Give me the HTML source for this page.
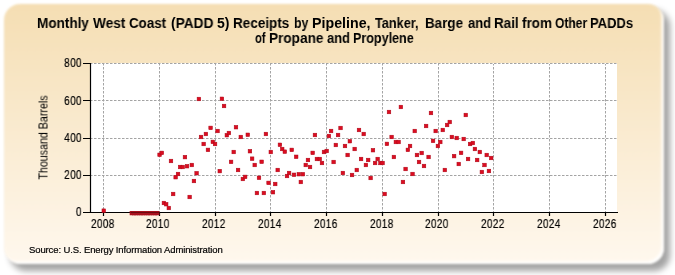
<!DOCTYPE html>
<html><head><meta charset="utf-8">
<style>
html,body{margin:0;padding:0;background:#fff;width:675px;height:275px;overflow:hidden;position:relative;}
.shadow{position:absolute;left:9.5px;top:9.5px;width:660px;height:261px;border-radius:16px;background:rgba(0,0,0,0.36);filter:blur(3px);}
.panel{position:absolute;left:3.5px;top:3.5px;width:660.5px;height:260px;border-radius:16px;filter:blur(1.1px);
background:linear-gradient(to bottom,#F5DEB3 0%,#FFF8EE 100%);box-shadow:inset -2.5px -2.5px 2px rgba(255,255,255,0.95);}
.t{position:absolute;will-change:transform;font-family:"Liberation Sans",sans-serif;color:#000;white-space:nowrap;line-height:15px;}
.yl{left:40.5px;width:41px;text-align:right;font-size:12.5px;letter-spacing:0.45px;transform:scaleX(0.8);transform-origin:100% 50%;-webkit-text-stroke:0.2px #000;}
.xl{top:216.5px;font-size:12.5px;letter-spacing:0.45px;transform:scaleX(0.8);transform-origin:0 50%;-webkit-text-stroke:0.2px #000;}
svg{position:absolute;left:0;top:0;}
.tw{font-size:14px;font-weight:bold;transform-origin:0 50%;}
</style></head><body>
<div class="shadow"></div>
<div class="panel"></div>
<div class="t tw" style="left:36.90px;top:15.5px;transform:scaleX(0.967)">Monthly</div><div class="t tw" style="left:92.50px;top:15.5px;transform:scaleX(0.975)">West</div><div class="t tw" style="left:129.30px;top:15.5px;transform:scaleX(0.953)">Coast</div><div class="t tw" style="left:170.70px;top:15.5px;transform:scaleX(0.980)">(PADD</div><div class="t tw" style="left:217.00px;top:15.5px;transform:scaleX(1.001)">5)</div><div class="t tw" style="left:232.90px;top:15.5px;transform:scaleX(0.965)">Receipts</div><div class="t tw" style="left:293.50px;top:15.5px;transform:scaleX(0.882)">by</div><div class="t tw" style="left:312.40px;top:15.5px;transform:scaleX(1.016)">Pipeline,</div><div class="t tw" style="left:375.00px;top:15.5px;transform:scaleX(0.907)">Tanker,</div><div class="t tw" style="left:425.40px;top:15.5px;transform:scaleX(0.957)">Barge</div><div class="t tw" style="left:467.80px;top:15.5px;transform:scaleX(0.929)">and</div><div class="t tw" style="left:493.60px;top:15.5px;transform:scaleX(0.960)">Rail</div><div class="t tw" style="left:521.70px;top:15.5px;transform:scaleX(0.962)">from</div><div class="t tw" style="left:555.20px;top:15.5px;transform:scaleX(0.860)">Other</div><div class="t tw" style="left:589.80px;top:15.5px;transform:scaleX(0.926)">PADDs</div><div class="t tw" style="left:255.30px;top:30.5px;transform:scaleX(0.797)">of</div><div class="t tw" style="left:269.40px;top:30.5px;transform:scaleX(0.971)">Propane</div><div class="t tw" style="left:327.40px;top:30.5px;transform:scaleX(0.924)">and</div><div class="t tw" style="left:353.20px;top:30.5px;transform:scaleX(0.897)">Propylene</div>
<svg width="675" height="275" viewBox="0 0 675 275">
<rect x="91" y="63" width="526" height="149" fill="#fff"/>
<g stroke="#a4a4a4" stroke-width="1" stroke-dasharray="2.5,1.5" stroke-dashoffset="1" fill="none">
<path d="M91 63.5H617M91 100.5H617M91 138.5H617M91 175.5H617"/>
<path d="M103.5 64V212M159.5 64V212M215.5 64V212M270.5 64V212M326.5 64V212M382.5 64V212M438.5 64V212M493.5 64V212M549.5 64V212M605.5 64V212"/>
</g>
<g stroke="#000" stroke-width="1.2" fill="none">
<path d="M90.5 63V213"/>
<path d="M90 212.5H618"/>
<path d="M83 63.5H90.5M83 100.5H90.5M83 138.5H90.5M83 175.5H90.5M83 212.5H90.5"/>
<path d="M103.5 212V216M159.5 212V216M215.5 212V216M270.5 212V216M326.5 212V216M382.5 212V216M438.5 212V216M493.5 212V216M549.5 212V216M605.5 212V216"/>
</g>
<g id="pts" fill="#dc0c20" stroke="#aa0818" stroke-width="0.5"><rect x="101.98" y="208.90" width="3.6" height="3.6"/><rect x="129.96" y="211.40" width="3.6" height="3.6"/><rect x="132.35" y="211.40" width="3.6" height="3.6"/><rect x="134.67" y="211.40" width="3.6" height="3.6"/><rect x="136.99" y="211.40" width="3.6" height="3.6"/><rect x="139.31" y="211.40" width="3.6" height="3.6"/><rect x="141.63" y="211.40" width="3.6" height="3.6"/><rect x="143.95" y="211.40" width="3.6" height="3.6"/><rect x="146.27" y="211.40" width="3.6" height="3.6"/><rect x="148.59" y="211.40" width="3.6" height="3.6"/><rect x="150.92" y="211.40" width="3.6" height="3.6"/><rect x="153.24" y="211.40" width="3.6" height="3.6"/><rect x="155.23" y="211.40" width="3.6" height="3.6"/><rect x="157.79" y="153.00" width="3.6" height="3.6"/><rect x="160.05" y="151.10" width="3.6" height="3.6"/><rect x="162.11" y="201.20" width="3.6" height="3.6"/><rect x="164.37" y="202.40" width="3.6" height="3.6"/><rect x="167.03" y="206.20" width="3.6" height="3.6"/><rect x="169.19" y="159.20" width="3.6" height="3.6"/><rect x="171.35" y="192.20" width="3.6" height="3.6"/><rect x="173.86" y="175.40" width="3.6" height="3.6"/><rect x="176.22" y="172.20" width="3.6" height="3.6"/><rect x="178.34" y="165.20" width="3.6" height="3.6"/><rect x="180.95" y="165.20" width="3.6" height="3.6"/><rect x="183.16" y="155.30" width="3.6" height="3.6"/><rect x="185.22" y="164.40" width="3.6" height="3.6"/><rect x="187.88" y="195.20" width="3.6" height="3.6"/><rect x="190.04" y="163.20" width="3.6" height="3.6"/><rect x="192.15" y="179.20" width="3.6" height="3.6"/><rect x="194.81" y="171.40" width="3.6" height="3.6"/><rect x="197.12" y="97.20" width="3.6" height="3.6"/><rect x="199.23" y="135.20" width="3.6" height="3.6"/><rect x="201.89" y="142.20" width="3.6" height="3.6"/><rect x="204.10" y="132.20" width="3.6" height="3.6"/><rect x="206.16" y="148.10" width="3.6" height="3.6"/><rect x="208.82" y="126.10" width="3.6" height="3.6"/><rect x="211.03" y="140.10" width="3.6" height="3.6"/><rect x="213.25" y="142.20" width="3.6" height="3.6"/><rect x="215.76" y="129.20" width="3.6" height="3.6"/><rect x="217.97" y="169.30" width="3.6" height="3.6"/><rect x="220.13" y="97.00" width="3.6" height="3.6"/><rect x="222.24" y="104.20" width="3.6" height="3.6"/><rect x="225.05" y="133.40" width="3.6" height="3.6"/><rect x="227.11" y="131.20" width="3.6" height="3.6"/><rect x="229.27" y="160.10" width="3.6" height="3.6"/><rect x="231.93" y="150.20" width="3.6" height="3.6"/><rect x="234.19" y="125.40" width="3.6" height="3.6"/><rect x="236.25" y="168.20" width="3.6" height="3.6"/><rect x="239.01" y="135.20" width="3.6" height="3.6"/><rect x="241.07" y="177.20" width="3.6" height="3.6"/><rect x="243.33" y="175.10" width="3.6" height="3.6"/><rect x="245.99" y="133.00" width="3.6" height="3.6"/><rect x="248.15" y="149.40" width="3.6" height="3.6"/><rect x="250.31" y="156.90" width="3.6" height="3.6"/><rect x="252.93" y="163.20" width="3.6" height="3.6"/><rect x="255.14" y="191.20" width="3.6" height="3.6"/><rect x="257.20" y="176.00" width="3.6" height="3.6"/><rect x="259.86" y="160.00" width="3.6" height="3.6"/><rect x="262.07" y="191.20" width="3.6" height="3.6"/><rect x="264.13" y="132.20" width="3.6" height="3.6"/><rect x="266.79" y="181.10" width="3.6" height="3.6"/><rect x="269.00" y="150.20" width="3.6" height="3.6"/><rect x="271.16" y="190.40" width="3.6" height="3.6"/><rect x="273.42" y="182.20" width="3.6" height="3.6"/><rect x="275.93" y="168.20" width="3.6" height="3.6"/><rect x="278.14" y="143.00" width="3.6" height="3.6"/><rect x="280.40" y="147.20" width="3.6" height="3.6"/><rect x="283.01" y="149.90" width="3.6" height="3.6"/><rect x="285.22" y="174.20" width="3.6" height="3.6"/><rect x="287.29" y="171.20" width="3.6" height="3.6"/><rect x="289.95" y="148.10" width="3.6" height="3.6"/><rect x="292.16" y="173.00" width="3.6" height="3.6"/><rect x="294.37" y="155.00" width="3.6" height="3.6"/><rect x="297.03" y="172.40" width="3.6" height="3.6"/><rect x="299.04" y="180.20" width="3.6" height="3.6"/><rect x="301.10" y="172.40" width="3.6" height="3.6"/><rect x="303.96" y="163.20" width="3.6" height="3.6"/><rect x="306.17" y="158.20" width="3.6" height="3.6"/><rect x="308.23" y="165.20" width="3.6" height="3.6"/><rect x="310.89" y="151.10" width="3.6" height="3.6"/><rect x="313.15" y="133.20" width="3.6" height="3.6"/><rect x="315.11" y="157.20" width="3.6" height="3.6"/><rect x="317.97" y="157.20" width="3.6" height="3.6"/><rect x="320.18" y="161.20" width="3.6" height="3.6"/><rect x="322.19" y="150.20" width="3.6" height="3.6"/><rect x="324.90" y="149.20" width="3.6" height="3.6"/><rect x="327.12" y="134.20" width="3.6" height="3.6"/><rect x="329.28" y="129.20" width="3.6" height="3.6"/><rect x="331.84" y="160.20" width="3.6" height="3.6"/><rect x="334.05" y="143.20" width="3.6" height="3.6"/><rect x="336.26" y="133.20" width="3.6" height="3.6"/><rect x="338.77" y="126.20" width="3.6" height="3.6"/><rect x="341.08" y="171.20" width="3.6" height="3.6"/><rect x="343.19" y="144.20" width="3.6" height="3.6"/><rect x="345.85" y="153.20" width="3.6" height="3.6"/><rect x="348.06" y="139.40" width="3.6" height="3.6"/><rect x="350.22" y="173.20" width="3.6" height="3.6"/><rect x="352.88" y="147.20" width="3.6" height="3.6"/><rect x="354.99" y="168.20" width="3.6" height="3.6"/><rect x="357.20" y="128.20" width="3.6" height="3.6"/><rect x="359.26" y="157.20" width="3.6" height="3.6"/><rect x="361.93" y="132.20" width="3.6" height="3.6"/><rect x="364.14" y="163.20" width="3.6" height="3.6"/><rect x="366.35" y="158.20" width="3.6" height="3.6"/><rect x="368.86" y="176.20" width="3.6" height="3.6"/><rect x="371.17" y="148.40" width="3.6" height="3.6"/><rect x="373.28" y="161.20" width="3.6" height="3.6"/><rect x="375.89" y="157.20" width="3.6" height="3.6"/><rect x="378.65" y="161.20" width="3.6" height="3.6"/><rect x="380.81" y="161.20" width="3.6" height="3.6"/><rect x="382.87" y="192.20" width="3.6" height="3.6"/><rect x="385.13" y="142.10" width="3.6" height="3.6"/><rect x="387.19" y="110.20" width="3.6" height="3.6"/><rect x="389.85" y="135.20" width="3.6" height="3.6"/><rect x="392.11" y="155.20" width="3.6" height="3.6"/><rect x="394.07" y="140.20" width="3.6" height="3.6"/><rect x="396.83" y="140.20" width="3.6" height="3.6"/><rect x="399.09" y="105.20" width="3.6" height="3.6"/><rect x="401.16" y="180.20" width="3.6" height="3.6"/><rect x="403.82" y="167.20" width="3.6" height="3.6"/><rect x="406.08" y="148.10" width="3.6" height="3.6"/><rect x="408.24" y="144.20" width="3.6" height="3.6"/><rect x="410.75" y="172.20" width="3.6" height="3.6"/><rect x="412.96" y="129.20" width="3.6" height="3.6"/><rect x="415.17" y="153.20" width="3.6" height="3.6"/><rect x="417.23" y="160.20" width="3.6" height="3.6"/><rect x="419.89" y="151.20" width="3.6" height="3.6"/><rect x="422.20" y="164.20" width="3.6" height="3.6"/><rect x="424.31" y="124.20" width="3.6" height="3.6"/><rect x="426.82" y="155.20" width="3.6" height="3.6"/><rect x="429.18" y="111.20" width="3.6" height="3.6"/><rect x="431.24" y="139.10" width="3.6" height="3.6"/><rect x="433.90" y="129.20" width="3.6" height="3.6"/><rect x="436.11" y="144.20" width="3.6" height="3.6"/><rect x="438.48" y="140.20" width="3.6" height="3.6"/><rect x="440.99" y="128.20" width="3.6" height="3.6"/><rect x="443.05" y="168.20" width="3.6" height="3.6"/><rect x="445.31" y="123.20" width="3.6" height="3.6"/><rect x="447.97" y="120.20" width="3.6" height="3.6"/><rect x="450.08" y="135.20" width="3.6" height="3.6"/><rect x="452.29" y="154.30" width="3.6" height="3.6"/><rect x="454.95" y="136.20" width="3.6" height="3.6"/><rect x="456.96" y="162.20" width="3.6" height="3.6"/><rect x="459.27" y="151.10" width="3.6" height="3.6"/><rect x="461.93" y="137.20" width="3.6" height="3.6"/><rect x="463.99" y="113.20" width="3.6" height="3.6"/><rect x="466.25" y="157.20" width="3.6" height="3.6"/><rect x="468.26" y="142.20" width="3.6" height="3.6"/><rect x="471.07" y="141.20" width="3.6" height="3.6"/><rect x="473.14" y="147.20" width="3.6" height="3.6"/><rect x="475.35" y="158.20" width="3.6" height="3.6"/><rect x="478.01" y="150.20" width="3.6" height="3.6"/><rect x="480.07" y="170.20" width="3.6" height="3.6"/><rect x="482.73" y="163.20" width="3.6" height="3.6"/><rect x="484.94" y="153.20" width="3.6" height="3.6"/><rect x="487.15" y="169.20" width="3.6" height="3.6"/><rect x="489.36" y="156.20" width="3.6" height="3.6"/></g>
<rect x="130.2" y="211" width="29.2" height="4" fill="#a8121e"/><path d="M130.5 212.5H159.3" stroke="rgba(40,0,0,0.45)" stroke-width="1"/>
</svg>
<div class="t yl" style="top:56.0px">800</div>
<div class="t yl" style="top:93.8px">600</div>
<div class="t yl" style="top:131.0px">400</div>
<div class="t yl" style="top:168.0px">200</div>
<div class="t yl" style="top:205.0px">0</div>
<div class="t xl" style="left:90.5px">2008</div>
<div class="t xl" style="left:146.4px">2010</div>
<div class="t xl" style="left:201.6px">2012</div>
<div class="t xl" style="left:257.6px">2014</div>
<div class="t xl" style="left:313.6px">2016</div>
<div class="t xl" style="left:369.6px">2018</div>
<div class="t xl" style="left:424.6px">2020</div>
<div class="t xl" style="left:480.6px">2022</div>
<div class="t xl" style="left:536.6px">2024</div>
<div class="t xl" style="left:592.6px">2026</div>
<div class="t" style="left:-6.5px;top:130px;width:100px;text-align:center;font-size:12px;letter-spacing:0px;transform:rotate(-90deg) scaleX(0.89);transform-origin:50% 50%;">Thousand Barrels</div>
<div class="t" style="left:29px;top:241.6px;font-size:9.5px;letter-spacing:-0.12px;color:#000;-webkit-text-stroke:0.2px #000;">Source: U.S. Energy Information Administration</div>
</body></html>
